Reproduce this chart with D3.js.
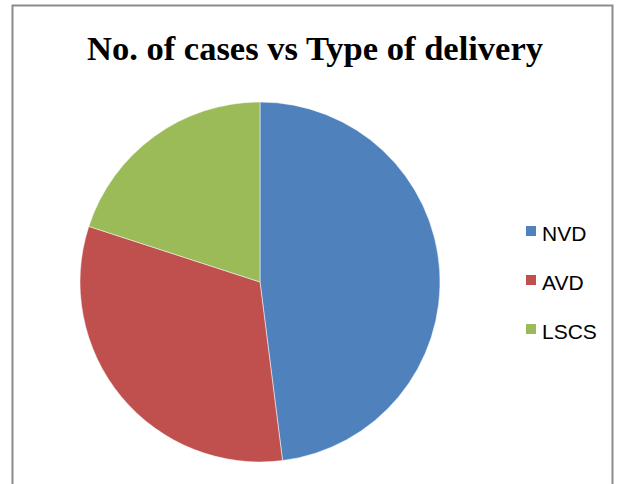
<!DOCTYPE html>
<html>
<head>
<meta charset="utf-8">
<script src="https://cdn.jsdelivr.net/npm/d3@7"></script>
<style>
  body { margin: 0; background: #fff; }
</style>
</head>
<body>
<div class="chart"></div>
<script>
var categories = ['NVD', 'AVD', 'LSCS'];
var cases = [48, 32, 20];
var colors = ['#4F81BD', '#C0504D', '#9BBB59'];

var width = 617, height = 484;

var svg = d3.select('.chart').append('svg')
  .attr('width', width)
  .attr('height', height);

// chart frame
svg.append('rect')
  .attr('x', 12.5)
  .attr('y', 5.5)
  .attr('width', 600)
  .attr('height', 490)
  .attr('fill', '#fff')
  .attr('stroke', '#8c8c8c')
  .attr('stroke-width', 2);

svg.append('text')
  .attr('x', 87)
  .attr('y', 60)
  .attr('textLength', 456)
  .attr('lengthAdjust', 'spacingAndGlyphs')
  .attr('font-family', '"Liberation Serif", "DejaVu Serif", serif')
  .attr('font-weight', 'bold')
  .attr('font-size', 33)
  .attr('fill', '#000')
  .text('No. of cases vs Type of delivery');

var data = categories.map(function (c, i) {
  return {name: c, value: cases[i], color: colors[i]};
});

var pie = d3.pie()
  .sort(null)
  .value(function (d) { return d.value; });

var arc = d3.arc()
  .innerRadius(0)
  .outerRadius(180);

var g = svg.append('g')
  .attr('transform', 'translate(260,282)');

g.selectAll('path')
  .data(pie(data))
  .enter()
  .append('path')
  .attr('d', arc)
  .attr('fill', function (d) { return d.data.color; })
  .attr('stroke', '#fff')
  .attr('stroke-width', 0.5);

var legendY = d3.scalePoint()
  .domain(categories)
  .range([231, 329]);

var legend = svg.selectAll('.legend')
  .data(data)
  .enter()
  .append('g')
  .attr('class', 'legend')
  .attr('transform', function (d) { return 'translate(526,' + legendY(d.name) + ')'; });

legend.append('rect')
  .attr('x', 0)
  .attr('y', -5)
  .attr('width', 10)
  .attr('height', 10)
  .attr('fill', function (d) { return d.color; });

legend.append('text')
  .attr('x', 16)
  .attr('y', 10)
  .attr('font-family', '"Liberation Sans", Arial, sans-serif')
  .attr('font-size', 21)
  .attr('fill', '#000')
  .text(function (d) { return d.name; });
</script>
</body>
</html>
